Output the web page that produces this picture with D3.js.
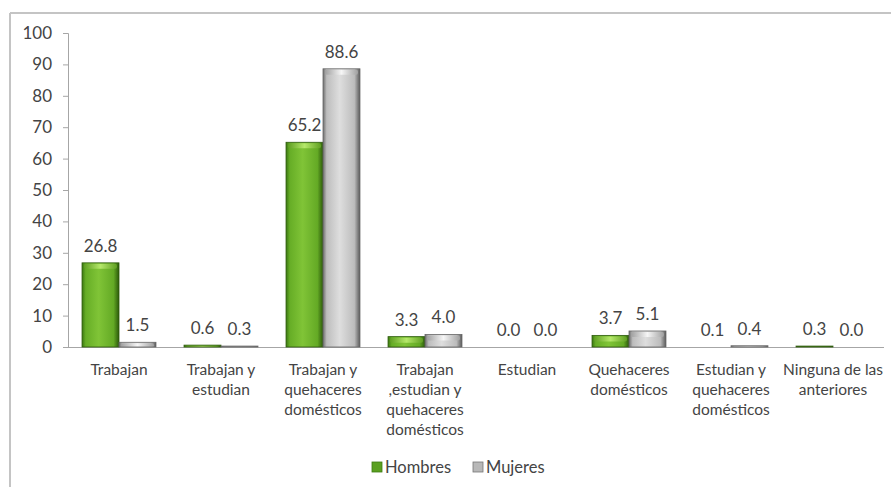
<!DOCTYPE html>
<html>
<head>
<meta charset="utf-8">
<script src="https://cdn.jsdelivr.net/npm/d3@7"></script>
<style>
  html, body { margin: 0; padding: 0; background: #ffffff; }
  svg { display: block; }
  text { font-family: Lato, "Open Sans", sans-serif; fill: #444; }
</style>
</head>
<body>
<svg id="chart" width="891" height="487"></svg>
<script>
const categories = [
  ["Trabajan"],
  ["Trabajan y", "estudian"],
  ["Trabajan y", "quehaceres", "domésticos"],
  ["Trabajan", ",estudian y", "quehaceres", "domésticos"],
  ["Estudian"],
  ["Quehaceres", "domésticos"],
  ["Estudian y", "quehaceres", "domésticos"],
  ["Ninguna de las", "anteriores"]
];
const seriesNames = ["Hombres", "Mujeres"];
const hombres = [26.8, 0.6, 65.2, 3.3, 0.0, 3.7, 0.1, 0.3];
const mujeres = [1.5, 0.3, 88.6, 4.0, 0.0, 5.1, 0.4, 0.0];
const yTicks = [0, 10, 20, 30, 40, 50, 60, 70, 80, 90, 100];

(function () {
const svg = d3.select("#chart");
const W = 891, H = 487;
const mLeft = 68, mRight = 884, mTop = 33, mBottom = 347;

// outer frame (top and left edges visible)
svg.append("line").attr("x1", 10).attr("x2", W).attr("y1", 13).attr("y2", 13)
  .attr("stroke", "#c4c4c4").attr("stroke-width", 2);
svg.append("line").attr("x1", 10).attr("x2", 10).attr("y1", 13).attr("y2", H)
  .attr("stroke", "#c4c4c4").attr("stroke-width", 2);

const keys = categories.map((c, i) => i);
const x = d3.scaleBand().domain(keys).range([mLeft, mRight])
  .paddingInner(0.275).paddingOuter(0.1375);
const xs = d3.scaleBand().domain(seriesNames).range([0, x.bandwidth()]);
const y = d3.scaleLinear().domain([0, 100]).range([mBottom, mTop]);

// gradients
const defs = svg.append("defs");
function hGrad(id, stops) {
  const g = defs.append("linearGradient").attr("id", id)
    .attr("x1", "0%").attr("x2", "100%").attr("y1", "0%").attr("y2", "0%");
  stops.forEach(s => g.append("stop").attr("offset", s[0]).attr("stop-color", s[1]));
}
hGrad("gGreen", [["0%", "#3b7810"], ["10%", "#66ad26"], ["45%", "#80c437"], ["85%", "#64aa25"], ["100%", "#2c5a0a"]]);
hGrad("gGray", [["0%", "#6e6e6e"], ["10%", "#bdbdbd"], ["45%", "#dedede"], ["85%", "#bcbcbc"], ["100%", "#5a5a5a"]]);
hGrad("gGreenTop", [["0%", "#5f9f22"], ["50%", "#b5e86a"], ["100%", "#5f9f22"]]);
hGrad("gGrayTop", [["0%", "#a0a0a0"], ["50%", "#f6f6f6"], ["100%", "#a0a0a0"]]);

// y axis
const yAxis = d3.axisLeft(y).tickValues(yTicks).tickSize(5).tickPadding(11).tickFormat(d3.format("d"));
const gy = svg.append("g").attr("transform", `translate(${mLeft},0)`).call(yAxis);
gy.select(".domain").attr("stroke", "#a6a6a6");
gy.selectAll(".tick line").attr("stroke", "#a6a6a6");
gy.selectAll(".tick text").style("font-size", "17px").attr("fill", "#444");

// x axis baseline
const xAxis = d3.axisBottom(x).tickSize(0).tickFormat("");
const gx = svg.append("g").attr("transform", `translate(0,${mBottom})`).call(xAxis);
gx.select(".domain").attr("stroke", "#a6a6a6").attr("d", `M${mLeft},0.5H${mRight}`);

// category labels
categories.forEach((lines, i) => {
  const cx = x(i) + x.bandwidth() / 2;
  const t = svg.append("text").attr("text-anchor", "middle")
    .attr("x", cx).attr("y", 375)
    .style("font-size", "15.5px").attr("fill", "#444");
  lines.forEach((ln, j) => {
    t.append("tspan").attr("x", cx).attr("dy", j === 0 ? 0 : 20).text(ln);
  });
});

// bars
const data = [];
categories.forEach((c, i) => {
  data.push({ cat: i, s: "Hombres", v: hombres[i] });
  data.push({ cat: i, s: "Mujeres", v: mujeres[i] });
});

const bars = svg.append("g");
data.forEach(d => {
  const bx = x(d.cat) + xs(d.s), bw = xs.bandwidth();
  const by = y(d.v), bh = y(0) - y(d.v);
  const green = d.s === "Hombres";
  if (bh > 0.5) {
    bars.append("rect").attr("x", bx).attr("y", by).attr("width", bw).attr("height", bh)
      .attr("fill", green ? "url(#gGreen)" : "url(#gGray)");
    const capH = Math.min(6, bh);
    bars.append("rect").attr("x", bx + 2).attr("y", by + 1).attr("width", bw - 4).attr("height", Math.max(0, capH - 1))
      .attr("rx", 2).attr("fill", green ? "url(#gGreenTop)" : "url(#gGrayTop)");
    bars.append("rect").attr("x", bx).attr("y", by).attr("width", bw).attr("height", bh)
      .attr("fill", "none").attr("stroke", green ? "#2d5a0c" : "#666").attr("stroke-width", 0.8);
  }
  svg.append("text").attr("text-anchor", "middle")
    .attr("x", bx + bw / 2).attr("y", by - 11)
    .style("font-size", "17px").attr("fill", "#444")
    .text(d3.format(".1f")(d.v));
});

// legend
const legend = svg.append("g").attr("transform", "translate(372,467)");
const lItems = [
  { name: "Hombres", fill: "#5aa020", stroke: "#3d7a12", x: 0 },
  { name: "Mujeres", fill: "#b8b8b8", stroke: "#777", x: 101 }
];
lItems.forEach(it => {
  legend.append("rect").attr("x", it.x).attr("y", -5).attr("width", 10).attr("height", 10)
    .attr("fill", it.fill).attr("stroke", it.stroke).attr("stroke-width", 0.8);
  legend.append("text").attr("x", it.x + 13).attr("y", 6)
    .style("font-size", "16.5px").attr("fill", "#444").text(it.name);
});
})();
</script>
</body>
</html>
